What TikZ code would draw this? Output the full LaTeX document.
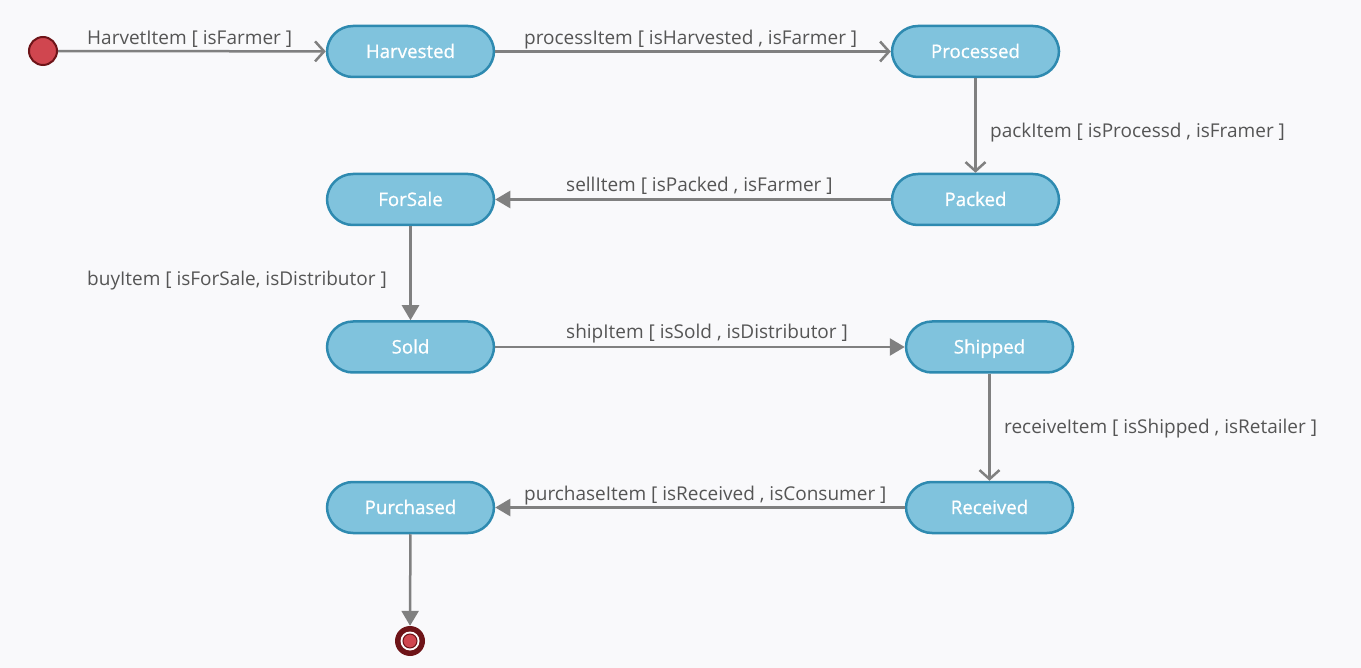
\documentclass[tikz,border=0pt]{standalone}
\usepackage{fontspec}
\setmainfont{Open Sans}
\newfontfamily\statefont[FakeBold=0.9]{Open Sans}
\usetikzlibrary{arrows.meta}
\definecolor{bg}{HTML}{F9F9FB}
\definecolor{stfill}{HTML}{80C3DD}
\definecolor{stdraw}{HTML}{2E8AB0}
\definecolor{lncol}{HTML}{808080}
\definecolor{txtcol}{HTML}{555555}
\definecolor{inired}{HTML}{D0464F}
\definecolor{inidark}{HTML}{6E1418}
\tikzset{
  state/.style={draw=stdraw, fill=stfill, line width=2.5pt, rounded corners=26pt,
    minimum width=167pt, minimum height=51pt, text=white, font=\statefont\fontsize{18.7}{22}\selectfont,
    inner sep=0pt, text height=15pt, text depth=2pt},
  lbl/.style={text=txtcol, font=\fontsize{19}{22}\selectfont, inner sep=0pt, text height=14pt, text depth=4pt},
  trans/.style={draw=lncol, line width=2.5pt},
  openarr/.style={trans, -{Straight Barb[length=9pt,width=20pt,line width=2.5pt]}},
  fillarr/.style={trans, -{Triangle[length=15pt,width=17pt]}},
}
\begin{document}
\begin{tikzpicture}[x=1pt,y=-1pt]
\fill[bg] (0,0) rectangle (1361,668);
\useasboundingbox (0,0) rectangle (1361,668);
\node[circle, fill=inired, draw=inidark, line width=2pt, minimum size=28pt, inner sep=0pt] (init) at (43,51) {};
\node[state] (harv) at (410.5,51.5) {Harvested};
\node[state] (proc) at (975.5,51.5) {Processed};
\node[state] (pack) at (975.5,199.5) {Packed};
\node[state] (sale) at (410.5,199.5) {ForSale};
\node[state] (sold) at (410.5,347) {Sold};
\node[state] (ship) at (989.5,347) {Shipped};
\node[state] (recv) at (989.5,507.5) {Received};
\node[state] (purc) at (410.5,507.5) {Purchased};
\node[circle, fill=inidark, minimum size=30pt, inner sep=0pt] (fin) at (410,641) {};
\node[circle, fill=white, minimum size=19pt, inner sep=0pt] (finw) at (fin) {};
\node[circle, fill=inired, draw=inidark, line width=1pt, minimum size=14pt, inner sep=0pt] (finr) at (fin) {};

\draw[openarr] (init) -- (harv);
\draw[openarr] (harv) -- (proc);
\draw[openarr] (proc) -- (pack);
\draw[fillarr] (pack) -- (sale);
\draw[fillarr] (sale) -- (sold);
\draw[fillarr] (sold) -- (ship);
\draw[openarr] (ship) -- (recv);
\draw[fillarr] (recv) -- (purc);
\draw[fillarr] (purc) -- (fin);

\node[lbl, anchor=west] (l1) at (87,40) {HarvetItem [ isFarmer ]};
\node[lbl, anchor=west] (l2) at (524,40) {processItem [ isHarvested , isFarmer ]};
\node[lbl, anchor=west] (l3) at (990,133) {packItem [ isProcessd , isFramer ]};
\node[lbl, anchor=west] (l4) at (566,187) {sellItem [ isPacked , isFarmer ]};
\node[lbl, anchor=west] (l5) at (87,281) {buyItem [ isForSale, isDistributor ]};
\node[lbl, anchor=west] (l6) at (566,334) {shipItem [ isSold , isDistributor ]};
\node[lbl, anchor=west] (l7) at (1004,428) {receiveItem [ isShipped , isRetailer ]};
\node[lbl, anchor=west] (l8) at (524,495) {purchaseItem [ isReceived , isConsumer ]};
\end{tikzpicture}
\end{document}
